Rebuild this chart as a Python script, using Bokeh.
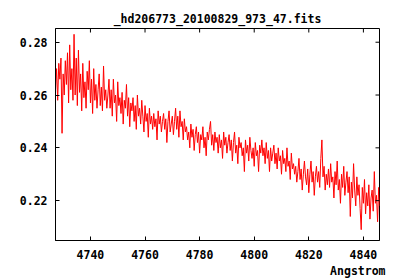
from bokeh.plotting import figure
from bokeh.models import LinearAxis, Title, FixedTicker
from bokeh.embed import file_html
from bokeh.resources import INLINE
import numpy as np

TITLE = "_hd206773_20100829_973_47.fits"
X_LABEL = "Angstrom"
WAVE_START = 4727.2
WAVE_STEP = 0.4
X_TICKS = [4740, 4760, 4780, 4800, 4820, 4840]
Y_TICKS = [0.22, 0.24, 0.26, 0.28]
X_RANGE = (4727.2, 4845.9)
Y_RANGE = (0.2049, 0.2852)

flux = [
    0.262, 0.270, 0.258, 0.272, 0.266, 0.274, 0.2455, 0.268, 0.260, 0.273,
    0.264, 0.276, 0.257, 0.279, 0.262, 0.270, 0.258, 0.283, 0.260, 0.274,
    0.256, 0.277, 0.261, 0.268, 0.254, 0.272, 0.259, 0.265, 0.255, 0.269,
    0.262, 0.273, 0.257, 0.266, 0.253, 0.270, 0.258, 0.264, 0.255, 0.262,
    0.268, 0.256, 0.263, 0.254, 0.271, 0.258, 0.262, 0.255, 0.260, 0.266,
    0.255, 0.262, 0.252, 0.266, 0.257, 0.260, 0.250, 0.265, 0.256, 0.259,
    0.253, 0.261, 0.249, 0.258, 0.255, 0.264, 0.252, 0.259, 0.248, 0.257,
    0.254, 0.259, 0.250, 0.256, 0.247, 0.260, 0.252, 0.255, 0.249, 0.258,
    0.252, 0.246, 0.256, 0.250, 0.253, 0.244, 0.255, 0.249, 0.252, 0.247,
    0.253, 0.248, 0.251, 0.243, 0.254, 0.249, 0.252, 0.246, 0.250, 0.253,
    0.247, 0.251, 0.242, 0.250, 0.254, 0.246, 0.249, 0.252, 0.245, 0.250,
    0.255, 0.247, 0.252, 0.244, 0.254, 0.248, 0.250, 0.243, 0.251, 0.246,
    0.248, 0.243, 0.246, 0.240, 0.249, 0.244, 0.247, 0.239, 0.245, 0.248,
    0.242, 0.246, 0.238, 0.245, 0.243, 0.248, 0.240, 0.244, 0.237, 0.246,
    0.243, 0.247, 0.250, 0.241, 0.245, 0.239, 0.246, 0.242, 0.244, 0.238,
    0.245, 0.240, 0.243, 0.236, 0.246, 0.241, 0.244, 0.238, 0.242, 0.245,
    0.239, 0.243, 0.235, 0.242, 0.246, 0.238, 0.241, 0.234, 0.244, 0.240,
    0.242, 0.237, 0.240, 0.231, 0.243, 0.238, 0.241, 0.235, 0.244, 0.239,
    0.236, 0.240, 0.233, 0.242, 0.237, 0.239, 0.231, 0.241, 0.238, 0.243,
    0.237, 0.240, 0.234, 0.242, 0.236, 0.239, 0.231, 0.240, 0.235, 0.238,
    0.241, 0.234, 0.238, 0.232, 0.240, 0.235, 0.237, 0.230, 0.239, 0.234,
    0.236, 0.231, 0.240, 0.233, 0.235, 0.228, 0.238, 0.232, 0.234, 0.230,
    0.233, 0.227, 0.231, 0.236, 0.228, 0.232, 0.224, 0.230, 0.235, 0.229,
    0.226, 0.232, 0.223, 0.230, 0.235, 0.227, 0.231, 0.222, 0.229, 0.233,
    0.227, 0.231, 0.225, 0.236, 0.243, 0.229, 0.233, 0.224, 0.230, 0.226,
    0.232, 0.225, 0.234, 0.227, 0.229, 0.221, 0.231, 0.226, 0.235, 0.224,
    0.228, 0.219, 0.230, 0.225, 0.233, 0.222, 0.227, 0.231, 0.223, 0.229,
    0.214, 0.227, 0.221, 0.234, 0.224, 0.218, 0.229, 0.222, 0.226, 0.217,
    0.209, 0.225, 0.219, 0.228, 0.215, 0.223, 0.218, 0.226, 0.213, 0.221,
    0.224, 0.216, 0.231, 0.219, 0.222, 0.212, 0.225, 0.218,
]

wave = WAVE_START + WAVE_STEP * np.arange(len(flux))

FONT = "DejaVu Sans Mono"
FS = "11.5px"

p = figure(width=400, height=280, x_range=X_RANGE, y_range=Y_RANGE,
           output_backend="svg", toolbar_location=None,
           min_border_left=55, min_border_right=21, min_border_top=28, min_border_bottom=40,
           x_axis_location=None, y_axis_location=None)
p.title.text = TITLE
p.title.align = "center"
p.title.text_font = FONT
p.title.text_font_size = FS
p.title.text_font_style = "bold"
p.title.text_color = "black"
p.title.standoff = 6
p.title.offset = 0

p.grid.visible = False
p.outline_line_color = "black"
p.outline_line_width = 1
p.background_fill_color = "white"
p.border_fill_color = "white"

p.line(wave, flux, line_color="#ff0000", line_width=1)

def mk_axis(ticks):
    ax = LinearAxis(ticker=FixedTicker(ticks=ticks))
    ax.major_tick_in = 4
    ax.major_tick_out = 0
    ax.minor_tick_in = 0
    ax.minor_tick_out = 0
    ax.axis_line_color = "black"
    ax.major_tick_line_color = "black"
    ax.major_label_text_font = FONT
    ax.major_label_text_font_size = FS
    ax.major_label_text_font_style = "bold"
    ax.major_label_text_color = "black"
    return ax

xb = mk_axis(X_TICKS)
xb.major_label_standoff = 9
p.add_layout(xb, "below")
yl = mk_axis(Y_TICKS)
yl.major_label_standoff = 8
yl.major_label_overrides = {t: f"{t:.2f}" for t in Y_TICKS}
p.add_layout(yl, "left")

# inner tick marks on the top and right frame edges
p.ray(x=X_TICKS, y=[Y_RANGE[1]] * len(X_TICKS), length=4, length_units="screen",
      angle=-np.pi / 2, line_color="black", line_width=1)
p.ray(x=[X_RANGE[1]] * len(Y_TICKS), y=Y_TICKS, length=4, length_units="screen",
      angle=np.pi, line_color="black", line_width=1)

xt = Title(text=X_LABEL, align="right", offset=-6, standoff=0,
           text_font=FONT, text_font_size=FS, text_font_style="bold", text_color="black")
p.add_layout(xt, "below")

open("out.html", "w").write(file_html(p, INLINE))
